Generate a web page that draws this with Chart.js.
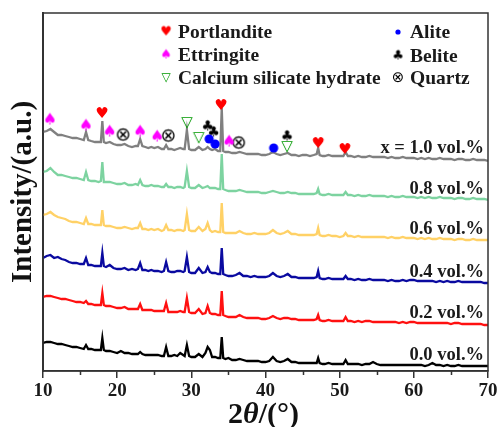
<!DOCTYPE html>
<html>
<head>
<meta charset="utf-8">
<script src="https://cdn.jsdelivr.net/npm/chart.js@4.4.1/dist/chart.umd.min.js"></script>
<style>
html,body{margin:0;padding:0;background:#fff;}
#wrap{width:500px;height:427px;}
</style>
</head>
<body>
<div id="wrap"><canvas id="c" width="500" height="427"></canvas></div>
<script>
// ---------- DATA ----------
const twoTheta = [
 10,10.5,11,11.5,12,12.5,13,13.5,14,14.5,15,15.5,
 15.8,16.1,16.5,17,17.5,17.8,18,18.2,18.5,19,19.5,20,
 20.5,21,21.5,22,22.5,22.8,23.1,23.4,23.8,24.2,24.6,25,
 25.5,26,26.3,26.6,26.9,27.3,27.7,28.1,28.5,28.9,29.1,29.4,
 29.7,30,30.5,31,31.5,31.9,32.2,32.5,32.8,33.2,33.6,33.9,
 34.1,34.3,34.6,35,35.5,36,36.5,37,37.5,38,38.5,39,
 39.5,40,40.5,41,41.5,42,42.5,43,43.5,44,44.5,45,
 45.5,46,46.5,46.9,47.1,47.3,47.7,48,48.5,49,49.5,50,
 50.5,50.8,51.1,51.5,52,52.5,53,53.5,54,54.5,55,55.5,
 56,56.5,57,57.5,58,58.5,59,59.5,60,60.5,61,61.5,
 62,62.5,63,63.5,64,64.5,65,65.5,66,66.5,67,67.5,
 68,68.5,69,69.5,70];

const intensity10 = [
 239,240,242,239,236,236,235,234,233,233,232,231,
 239,231,230,229,229,229,250,229,228,229,227,226,
 226,227,225,224,225,225,232,225,224,223,224,223,
 224,222,222,226,222,222,221,222,223,222,222,241,
 222,221,221,224,221,222,224,222,221,222,220,220,
 263,220,219,219,218,218,219,218,217,217,217,217,
 216,216,217,219,217,216,217,218,216,216,215,216,
 216,215,216,217,223,216,215,215,216,215,215,215,
 215,219,215,215,214,215,214,214,215,214,214,214,
 214,213,214,213,213,214,213,213,213,212,213,212,
 213,212,212,213,212,212,212,211,212,212,211,211,
 212,211,211,211,210];

const intensity08 = [
 199,200,203,199,196,196,195,194,193,193,192,191,
 199,191,190,190,189,190,209,189,189,189,188,187,
 187,188,186,186,187,186,191,186,185,185,186,185,
 185,184,184,187,184,184,183,184,184,183,184,200,
 184,183,183,186,183,184,185,183,183,183,182,182,
 217,182,181,180,180,180,181,180,179,179,179,179,
 178,178,179,180,179,178,178,179,178,178,177,177,
 177,177,177,178,182,177,176,176,177,176,176,176,
 176,179,176,176,175,176,175,175,176,175,175,175,
 175,174,175,174,174,175,174,174,174,173,174,173,
 174,173,173,174,173,173,173,172,173,173,172,172,
 173,172,172,172,171];

const intensity06 = [
 156,157,159,156,154,153,152,150,149,149,148,147,
 153,147,147,146,146,146,161,146,145,145,144,143,
 143,144,143,142,143,143,148,142,142,141,142,141,
 142,140,141,146,141,141,140,141,141,140,141,157,
 141,140,140,144,140,142,148,141,139,140,139,139,
 168,139,138,138,138,138,140,138,137,137,138,137,
 137,137,138,141,138,137,138,140,137,137,136,136,
 136,136,136,137,143,136,135,135,136,135,135,134,
 135,138,135,135,134,135,134,134,134,134,134,134,
 134,133,134,133,133,134,133,133,133,132,133,132,
 133,132,132,133,132,132,132,131,132,132,131,131,
 132,131,131,131,131];

const intensity04 = [
 113,115,116,113,114,112,111,109,108,108,107,107,
 113,106,106,105,105,105,118,105,104,106,103,102,
 102,103,101,102,101,102,108,101,101,100,101,100,
 100,99,100,109,100,99,99,100,100,99,100,114,
 99,98,98,103,98,99,104,99,98,98,97,97,
 123,97,96,95,95,96,98,95,95,94,95,94,
 94,94,95,98,95,94,95,97,94,94,93,93,
 93,93,93,94,100,93,92,92,93,92,92,92,
 92,95,92,92,91,92,91,91,92,91,91,91,
 91,90,91,90,90,91,90,91,91,90,90,90,
 90,90,89,90,89,90,89,89,90,89,89,89,
 89,89,89,88,88];

const intensity02 = [
 74,75,75,74,73,72,72,71,70,69,69,68,
 70,67,67,66,66,66,78,66,65,65,64,63,
 63,64,62,62,62,62,67,61,61,61,61,60,
 60,60,60,68,59,59,59,59,60,59,59,73,
 59,58,58,62,57,58,65,58,57,57,56,56,
 80,56,55,54,54,54,56,54,53,53,53,53,
 52,52,53,55,53,52,53,53,52,52,51,51,
 51,51,51,52,56,51,50,50,51,50,50,50,
 50,54,50,50,49,50,49,50,50,49,49,49,
 49,49,49,49,48,49,48,49,49,48,48,48,
 48,48,48,48,48,48,47,48,48,47,47,47,
 47,47,47,46,46];

const intensity00 = [
 28,29,29,28,27,27,26,25,24,24,23,22,
 26,22,22,21,21,21,33,21,20,20,19,18,
 20,18,18,17,17,17,19,17,16,16,16,16,
 16,15,15,24,15,15,16,15,18,16,15,26,
 15,14,14,17,14,18,24,21,14,14,13,13,
 34,13,12,13,11,11,12,11,10,10,10,10,
 9,9,10,14,10,9,10,12,9,9,8,8,
 8,8,8,8,13,8,7,7,8,7,7,7,
 7,11,7,7,7,7,6,7,7,9,7,6,
 6,6,6,6,6,6,6,6,6,6,6,5,
 6,8,6,6,5,6,5,5,6,5,5,5,
 5,5,5,5,5];

const seriesLabels = ['x = 1.0 vol.%','0.8 vol.%','0.6 vol.%','0.4 vol.%','0.2 vol.%','0.0 vol.%'];
const xTicks = [10,20,30,40,50,60,70];
const xMinorTicks = [15,25,35,45,55,65];

// phase markers (2θ, intensity)
const portlanditeX = [17.95,34.0,47.1,50.7];
const portlanditeY = [257,265,227,221];
const ettringiteX = [10.94,15.8,19.0,23.1,25.4,35.1];
const ettringiteY = [251,245,239,239,234,229];
const cshX = [29.4,31.0,42.9];
const cshY = [248,233,224];
const aliteX = [32.4,33.2,41.1];
const aliteY = [232,227,223];
const beliteX = [32.2,33.0,42.9];
const beliteY = [244,238,234];
const quartzX = [20.8,26.9,36.4];
const quartzY = [235,234,227];

// ---------- STYLE ----------
const lineColors = ['#808080','#7dd3a0','#ffd166','#0a0aa0','#ff1010','#000000'];
const serif = '"Liberation Serif", "Times New Roman", serif';
const axisColor = '#333333';

function pts(xs, ys){ return xs.map((x,i)=>({x:x, y:ys[i]})); }

function glyph(ch, color, size){
  const c = document.createElement('canvas');
  const s = Math.ceil(size*1.3)+2;
  c.width = s; c.height = s;
  const g = c.getContext('2d');
  g.fillStyle = color;
  g.font = size + 'px "DejaVu Sans"';
  g.textAlign = 'center';
  g.textBaseline = 'middle';
  g.fillText(ch, s/2, s/2);
  return c;
}
function dot(color, r){
  const s = Math.ceil(r*2)+2;
  const c = document.createElement('canvas');
  c.width = s; c.height = s;
  const g = c.getContext('2d');
  g.fillStyle = color;
  g.beginPath(); g.arc(s/2, s/2, r, 0, Math.PI*2); g.fill();
  return c;
}

const gHeart = glyph('\u2665', '#ff0000', 15);
const gSpade = glyph('\u2660', '#ff00ff', 16);
const gTri = glyph('\u25BD', '#009900', 15);
const gDot = dot('#0000ff', 4.6);
const gClub = glyph('\u2663', '#000000', 14);
const gQuartz = glyph('\u2297', '#000000', 19);

const legendItems = [
  {img: glyph('\u2665', '#ff0000', 13), text: 'Portlandite', x: 166, y: 32},
  {img: glyph('\u2660', '#ff00ff', 13), text: 'Ettringite', x: 166, y: 55},
  {img: glyph('\u25BD', '#009900', 12), text: 'Calcium silicate hydrate', x: 166, y: 78},
  {img: dot('#0000ff', 2.6), text: 'Alite', x: 398, y: 32},
  {img: glyph('\u2663', '#000000', 13), text: 'Belite', x: 398, y: 56},
  {img: glyph('\u2297', '#000000', 15), text: 'Quartz', x: 398, y: 78}
];

const lineData = [intensity10, intensity08, intensity06, intensity04, intensity02, intensity00];

const datasets = lineData.map((arr, i) => ({
  type: 'line',
  label: seriesLabels[i],
  data: pts(twoTheta, arr),
  borderColor: lineColors[i],
  borderWidth: 2.3,
  pointRadius: 0,
  tension: 0,
  fill: false,
  order: 10
}));

const markerSets = [
  ['Portlandite', portlanditeX, portlanditeY, gHeart],
  ['Ettringite', ettringiteX, ettringiteY, gSpade],
  ['Calcium silicate hydrate', cshX, cshY, gTri],
  ['Alite', aliteX, aliteY, gDot],
  ['Belite', beliteX, beliteY, gClub],
  ['Quartz', quartzX, quartzY, gQuartz]
];
markerSets.forEach(m => datasets.push({
  type: 'scatter',
  label: m[0],
  data: pts(m[1], m[2]),
  pointStyle: m[3],
  pointRadius: 6,
  showLine: false,
  order: 1
}));

const decor = {
  id: 'decor',
  afterDraw(chart){
    const ctx = chart.ctx, a = chart.chartArea;
    ctx.save();
    // frame
    ctx.strokeStyle = axisColor;
    ctx.lineWidth = 1.5;
    ctx.strokeRect(a.left, a.top, a.right - a.left, a.bottom - a.top);
    // minor ticks on x axis
    const xs = chart.scales.x;
    ctx.beginPath();
    xMinorTicks.forEach(v => {
      const px = Math.round(xs.getPixelForValue(v)) + 0.5;
      ctx.moveTo(px, a.bottom); ctx.lineTo(px, a.bottom + 4);
    });
    ctx.stroke();
    // legend
    ctx.fillStyle = '#1a1a1a';
    ctx.font = 'bold 19.5px ' + serif;
    ctx.textAlign = 'left';
    ctx.textBaseline = 'middle';
    legendItems.forEach(it => {
      ctx.drawImage(it.img, it.x - it.img.width/2, it.y - it.img.height/2);
      ctx.fillText(it.text, it.x + 12, it.y + 1);
    });
    // series labels
    ctx.font = 'bold 18.5px ' + serif;
    ctx.textAlign = 'right';
    ctx.textBaseline = 'alphabetic';
    const ys = chart.scales.y;
    const labelIntensity = [224, 183, 143, 100, 59, 17];
    seriesLabels.forEach((t, i) => {
      ctx.fillText(t, a.right - 4, ys.getPixelForValue(labelIntensity[i]) + 6);
    });
    // x title: 2θ/(°)
    const parts = [['2','bold 30px ' + serif], ['\u03B8','bold italic 30px ' + serif], ['/(\u00B0)','bold 30px ' + serif]];
    let w = 0;
    parts.forEach(p => { ctx.font = p[1]; w += ctx.measureText(p[0]).width; });
    let x = (a.left + a.right)/2 - 2 - w/2;
    ctx.textAlign = 'left';
    ctx.fillStyle = '#111';
    parts.forEach(p => { ctx.font = p[1]; ctx.fillText(p[0], x, 423); x += ctx.measureText(p[0]).width; });
    ctx.restore();
  }
};

new Chart(document.getElementById('c'), {
  data: { datasets },
  options: {
    responsive: false,
    animation: false,
    devicePixelRatio: 1,
    layout: { padding: { top: 13, right: 12, left: 0, bottom: 0 } },
    plugins: { legend: { display: false }, tooltip: { enabled: false } },
    scales: {
      x: {
        type: 'linear',
        min: 10, max: 70,
        afterFit(s){ s.height = 56; },
        afterBuildTicks(s){ s.ticks = xTicks.map(v=>({value:v})); },
        ticks: {
          autoSkip: false,
          maxRotation: 0,
          padding: 2,
          color: '#1a1a1a',
          font: { family: serif, size: 19, weight: 'bold' },
          callback: v => String(v)
        },
        grid: { display: true, drawOnChartArea: false, drawTicks: true, tickLength: 7, color: axisColor, lineWidth: 1.5 },
        border: { display: true, color: axisColor, width: 1.5 }
      },
      y: {
        type: 'linear',
        min: 0, max: 358,
        afterFit(s){ s.width = 43; },
        ticks: { display: false },
        grid: { display: false },
        border: { display: true, color: axisColor, width: 2 },
        title: {
          display: true,
          text: 'Intensity/(a.u.)',
          color: '#111',
          font: { family: serif, size: 29, weight: 'bold' },
          padding: { top: 6, bottom: 0 }
        }
      }
    }
  },
  plugins: [decor]
});
</script>
</body>
</html>
